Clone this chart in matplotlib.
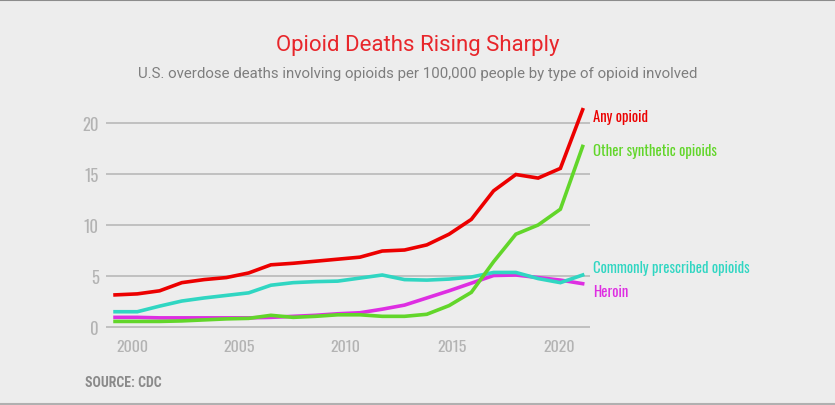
import matplotlib
matplotlib.use("Agg")
import matplotlib.pyplot as plt
from matplotlib import font_manager
from matplotlib.lines import Line2D

# Donnees (taux pour 100 000 habitants)
annees = list(range(1999, 2021))
any_opioid = [3.15, 3.25, 3.55, 4.35, 4.65, 4.85, 5.3, 6.1, 6.25, 6.45, 6.65,
              6.85, 7.45, 7.55, 8.05, 9.1, 10.55, 13.35, 14.95, 14.6, 15.55, 21.3]
synthetiques = [0.55, 0.55, 0.55, 0.6, 0.7, 0.8, 0.85, 1.15, 0.95, 1.05, 1.2,
                1.2, 1.05, 1.05, 1.25, 2.1, 3.4, 6.4, 9.1, 10.0, 11.55, 17.7]
prescrits = [1.5, 1.5, 2.05, 2.55, 2.85, 3.1, 3.35, 4.1, 4.35, 4.45, 4.5,
             4.8, 5.1, 4.65, 4.6, 4.7, 4.9, 5.35, 5.35, 4.75, 4.35, 5.1]
heroine = [0.95, 0.95, 0.9, 0.9, 0.9, 0.9, 0.9, 0.95, 1.05, 1.15, 1.3,
           1.4, 1.75, 2.15, 2.85, 3.55, 4.3, 5.05, 5.1, 4.85, 4.6, 4.25]

noms = ["Any opioid", "Other synthetic opioids",
        "Commonly prescribed opioids", "Heroin"]
ticks_y = [0, 5, 10, 15, 20]
ticks_x = [2000, 2005, 2010, 2015, 2020]

# Choix des polices selon ce qui est installe
dispo = {f.name for f in font_manager.fontManager.ttflist}


def choisir(candidats):
    for nom in candidats:
        if nom in dispo:
            return nom
    return "DejaVu Sans"


etroite = choisir(["Oswald", "Pathway Gothic One", "Roboto Condensed", "Barlow Condensed",
                   "Archivo Narrow", "Encode Sans Condensed"])
etroite_gras = choisir(["Roboto Condensed", "Barlow Condensed", "Archivo Narrow", "Oswald"])
titre_police = choisir(["Roboto", "Inter", "Noto Sans"])

fond = "#ededed"
rouge = "#ec0000"
vert = "#62d62a"
turquoise = "#30d6c2"
magenta = "#de2ee2"
gris_ticks = "#b3b3b3"

fig = plt.figure(figsize=(8.35, 4.06), dpi=100, facecolor=fond)
ax = fig.add_axes([105.7 / 835, 1 - 336 / 406, (590 - 105.7) / 835, 231 / 406])
ax.set_facecolor(fond)

ax.set_xlim(1998.58, 2020.33)
ax.set_ylim(-0.78, 21.86)

for s in ax.spines.values():
    s.set_visible(False)

ax.set_yticks(ticks_y)
ax.set_yticklabels([str(t) for t in ticks_y])
ax.yaxis.grid(True, color="#bdbdbd", linewidth=1.3)
ax.set_axisbelow(True)
ax.tick_params(axis="y", length=0, pad=5, labelsize=12, labelcolor=gris_ticks)
for lab in ax.get_yticklabels():
    lab.set_family(etroite)
    lab.set_fontweight("light")
ax.set_xticks([])

# Les etiquettes d'annees du graphique source ne tombent pas exactement sur les points
ax_annees = ax.twiny()
ax_annees.set_xlim(1998.75, 2021.46)
ax_annees.xaxis.set_ticks_position("bottom")
ax_annees.set_xticks(ticks_x)
ax_annees.set_xticklabels([str(t) for t in ticks_x])
ax_annees.tick_params(axis="x", length=0, pad=3, labelsize=11.5, labelcolor=gris_ticks)
for lab in ax_annees.get_xticklabels():
    lab.set_family(etroite)
    lab.set_fontweight("light")
for s in ax_annees.spines.values():
    s.set_visible(False)

series = [
    (heroine, magenta, noms[3], -8),
    (prescrits, turquoise, noms[2], 8),
    (synthetiques, vert, noms[1], -4),
    (any_opioid, rouge, noms[0], -7),
]
for valeurs, couleur, nom, dy in series:
    ax.plot(annees, valeurs, color=couleur, linewidth=2.6, solid_joinstyle="miter",
            clip_on=False, zorder=3)
    ax.annotate(nom, xy=(annees[-1], valeurs[-1]), xytext=(7.5, dy * 0.72),
                textcoords="offset points", color=couleur, fontsize=10.6,
                family=etroite, fontweight="light", va="center", ha="left",
                annotation_clip=False)

fig.text(0.5, 1 - 45 / 406, "Opioid Deaths Rising Sharply", color="#e8262b",
         fontsize=16, family=titre_police, ha="center", va="center")
fig.text(0.5, 1 - 74 / 406,
         "U.S. overdose deaths involving opioids per 100,000 people by type of opioid involved",
         color="#7e7e7e", fontsize=10.8, family=titre_police, ha="center", va="center")
fig.text(85 / 835, 1 - 383 / 406, "SOURCE: CDC", color="#8a8a8a", fontsize=10,
         fontweight="bold", family=etroite_gras, ha="left", va="center")

# Filets haut et bas
fig.add_artist(Line2D([0, 1], [1 - 1 / 406, 1 - 1 / 406], color="#8c8c8c", linewidth=1.5))
fig.add_artist(Line2D([0, 1], [1 - 404.5 / 406, 1 - 404.5 / 406], color="#b0b0b0", linewidth=1.5))

fig.savefig("out.png", dpi=100, facecolor=fond)
